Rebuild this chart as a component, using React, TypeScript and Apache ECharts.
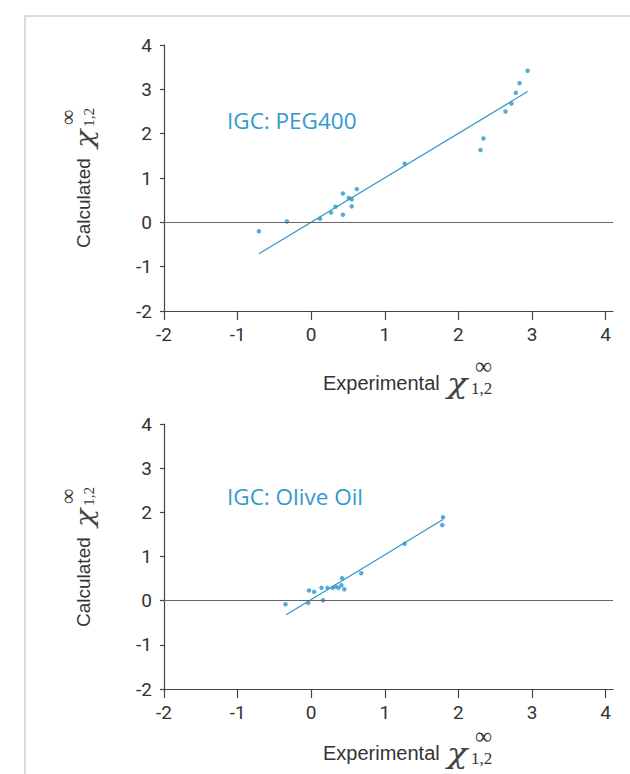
import React, { useEffect, useRef } from "react";
import * as echarts from "echarts";

const xTicks = [-2, -1, 0, 1, 2, 3, 4];
const pegExp = [-0.71, -0.33, 0.12, 0.27, 0.33, 0.43, 0.43, 0.51, 0.55, 0.55, 0.62, 1.27, 2.3, 2.34, 2.64, 2.72, 2.78, 2.83, 2.94];
const pegCalc = [-0.2, 0.02, 0.08, 0.22, 0.35, 0.65, 0.17, 0.55, 0.52, 0.36, 0.75, 1.32, 1.63, 1.89, 2.5, 2.68, 2.92, 3.14, 3.42];
const pegFitX = [-0.71, 2.94];
const pegFitY = [-0.71, 2.95];
const oliveExp = [-0.35, -0.04, -0.03, 0.04, 0.14, 0.16, 0.22, 0.29, 0.33, 0.37, 0.42, 0.41, 0.45, 0.68, 1.27, 1.78, 1.79];
const oliveCalc = [-0.08, -0.05, 0.23, 0.2, 0.29, 0.01, 0.29, 0.29, 0.32, 0.29, 0.51, 0.35, 0.26, 0.62, 1.29, 1.71, 1.89];
const oliveFitX = [-0.34, 1.79];
const oliveFitY = [-0.32, 1.84];
const panelLabels = ["IGC: PEG400", "IGC: Olive Oil"];

const BLUE = "#3096cb";
const AXIS = "#444";
const TEXT = "#333";

function zip(a: number[], b: number[]) {
  return a.map((v, i) => [v, b[i]]);
}

function chiTitle(prefix: string, size: number, offsets: { chi: number; inf: number; sub: number }, s: number) {
  return [
    { type: "text", x: 0, y: 0, style: { text: prefix, fill: TEXT, fontSize: size, fontFamily: "Liberation Sans", align: "left", verticalAlign: "middle" } },
    { type: "text", x: offsets.chi, y: 1 * s, scaleX: 1.25, style: { text: "χ", fill: "#444", fontSize: 27 * s, fontFamily: "DejaVu Serif", fontStyle: "italic", align: "left", verticalAlign: "middle" } },
    { type: "text", x: offsets.inf, y: -17 * s, style: { text: "∞", fill: TEXT, fontSize: 24 * s, fontFamily: "Liberation Serif", align: "left", verticalAlign: "middle" } },
    { type: "text", x: offsets.sub, y: 5 * s, style: { text: "1,2", fill: TEXT, fontSize: 17 * s, fontFamily: "Liberation Serif", align: "left", verticalAlign: "middle" } },
  ];
}

export default function App() {
  const ref = useRef<HTMLDivElement>(null);
  useEffect(() => {
    if (!ref.current) return;
    const chart = echarts.init(ref.current, null, { renderer: "svg" });
    const xAxis = (gi: number) => ({
      type: "value",
      gridIndex: gi,
      min: -2,
      max: 4.1,
      interval: 1,
      axisLine: { onZero: false, lineStyle: { color: AXIS, width: 1.2 } },
      axisTick: { length: 9, customValues: xTicks, lineStyle: { color: AXIS, width: 1.2 } },
      axisLabel: { customValues: xTicks, margin: 14, fontSize: 19, fontFamily: "Roboto", color: TEXT },
      splitLine: { show: false },
    });
    const yAxis = (gi: number) => ({
      type: "value",
      gridIndex: gi,
      min: -2,
      max: 4,
      interval: 1,
      axisLine: { onZero: false, lineStyle: { color: AXIS, width: 1.2 } },
      axisTick: { length: 4, lineStyle: { color: AXIS, width: 1.2 } },
      axisLabel: { margin: 12, fontSize: 19, fontFamily: "Roboto", color: TEXT },
      splitLine: { show: false },
    });
    const scatter = (gi: number, data: number[][]) => ({
      type: "scatter",
      xAxisIndex: gi,
      yAxisIndex: gi,
      data,
      symbolSize: 4.5,
      itemStyle: { color: BLUE },
      markLine: {
        silent: true,
        symbol: "none",
        label: { show: false },
        lineStyle: { color: "#666", width: 1, type: "solid" },
        data: [{ yAxis: 0 }],
      },
    });
    const fit = (gi: number, data: number[][]) => ({
      type: "line",
      xAxisIndex: gi,
      yAxisIndex: gi,
      data,
      showSymbol: false,
      symbol: "none",
      lineStyle: { color: BLUE, width: 1.2 },
    });
    const xOff = { chi: 124, inf: 152, sub: 148 };
    const yOff = { chi: 100, inf: 123, sub: 121 };
    const graphics: any[] = [
      { type: "rect", shape: { x: 25, y: 16, width: 700, height: 900 }, style: { fill: "none", stroke: "#cfcfcf", lineWidth: 1.5 } },
    ];
    [0, 370].forEach((dy, i) => {
      graphics.push({ type: "group", x: 323, y: 383 + dy, children: chiTitle("Experimental", 20, xOff, 1) });
      graphics.push({ type: "group", x: 83.5, y: 248 + dy * (379 / 370), rotation: Math.PI / 2, children: chiTitle("Calculated", 19, yOff, 0.9) });
      graphics.push({
        type: "text",
        x: 227,
        y: 120 + (i === 0 ? 0 : 376),
        style: { text: panelLabels[i], fill: "#3399cc", fontSize: 22.5, fontFamily: "Open Sans", align: "left", verticalAlign: "middle" },
      });
    });
    chart.setOption({
      animation: false,
      grid: [
        { left: 164, top: 45, width: 449, height: 266 },
        { left: 164, top: 424, width: 449, height: 265 },
      ],
      xAxis: [xAxis(0), xAxis(1)],
      yAxis: [yAxis(0), yAxis(1)],
      series: [
        scatter(0, zip(pegExp, pegCalc)),
        fit(0, zip(pegFitX, pegFitY)),
        scatter(1, zip(oliveExp, oliveCalc)),
        fit(1, zip(oliveFitX, oliveFitY)),
      ],
      graphic: graphics,
    });
    return () => chart.dispose();
  }, []);
  return <div ref={ref} style={{ position: "absolute", left: 0, top: 0, width: 630, height: 774 }} />;
}
